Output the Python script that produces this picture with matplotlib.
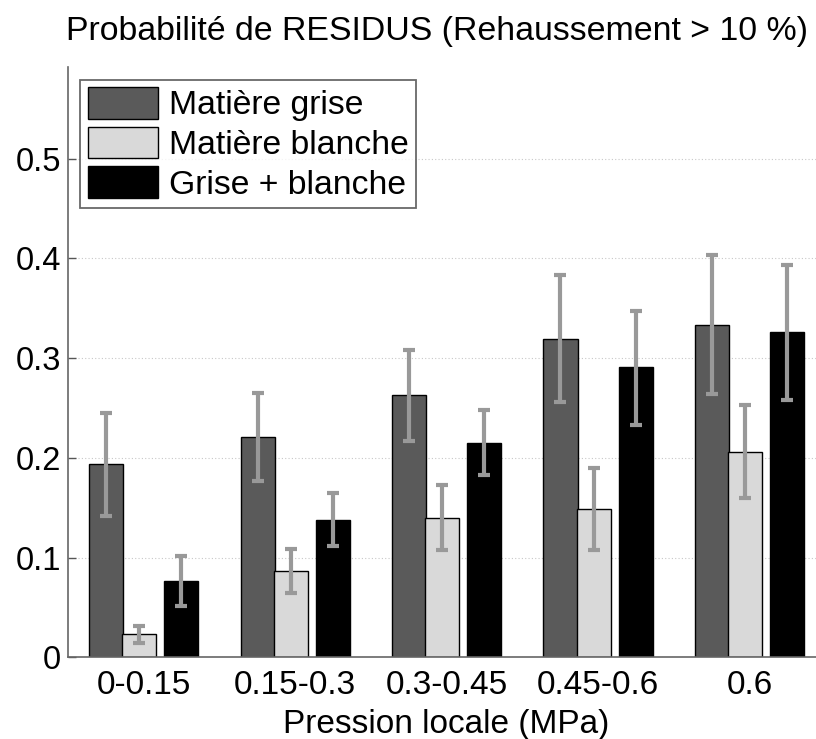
import matplotlib.pyplot as plt
import numpy as np

plt.rcParams['font.family'] = ['Liberation Sans', 'DejaVu Sans']

# Data
groupes = ['0-0.15', '0.15-0.3', '0.3-0.45', '0.45-0.6', '0.6']
series = ['Matière grise', 'Matière blanche', 'Grise + blanche']

grise = [0.194, 0.221, 0.263, 0.319, 0.333]
grise_bas = [0.142, 0.177, 0.217, 0.256, 0.264]
grise_haut = [0.245, 0.265, 0.308, 0.383, 0.403]

blanche = [0.023, 0.086, 0.140, 0.149, 0.206]
blanche_bas = [0.014, 0.064, 0.108, 0.108, 0.160]
blanche_haut = [0.031, 0.109, 0.173, 0.190, 0.253]

mixte = [0.076, 0.138, 0.215, 0.291, 0.326]
mixte_bas = [0.051, 0.112, 0.183, 0.233, 0.258]
mixte_haut = [0.102, 0.165, 0.248, 0.347, 0.393]

couleurs = ['#5a5a5a', '#d9d9d9', '#000000']
decalages = [-0.248, -0.028, 0.248]
largeur = 0.225

fig = plt.figure(figsize=(8.16, 7.39), dpi=100)
ax = fig.add_axes([0.0833, 0.1106, 0.928, 0.799])

x = np.arange(1, len(groupes) + 1)
valeurs = [grise, blanche, mixte]
bas = [grise_bas, blanche_bas, mixte_bas]
haut = [grise_haut, blanche_haut, mixte_haut]

for v, b, h, c, d, nom in zip(valeurs, bas, haut, couleurs, decalages, series):
    v = np.array(v)
    ax.bar(x + d, v, largeur, color=c, edgecolor='black', linewidth=1.0,
           label=nom, zorder=2)
    err = [v - np.array(b), np.array(h) - v]
    ax.errorbar(x + d, v, yerr=err, fmt='none', ecolor='#999999',
                elinewidth=3.0, capsize=4.5, capthick=3.0, zorder=3)

ax.set_xlim(0.5, 5.5)
ax.set_ylim(0, 0.592)
ax.set_yticks([0, 0.1, 0.2, 0.3, 0.4, 0.5])
ax.set_yticklabels(['0', '0.1', '0.2', '0.3', '0.4', '0.5'])
ax.set_xticks(x)
ax.set_xticklabels(groupes)

ax.tick_params(axis='y', direction='in', length=6, width=1, color='#555555',
               labelsize=23.5, pad=5)
ax.tick_params(axis='x', length=0, labelsize=24, pad=9)

for s in ['top', 'right']:
    ax.spines[s].set_visible(False)
for s in ['left', 'bottom']:
    ax.spines[s].set_color('#666666')
    ax.spines[s].set_linewidth(1.2)

ax.yaxis.grid(True, linestyle=(0, (1, 2)), color='#c8c8c8', linewidth=0.8, zorder=0)
ax.set_axisbelow(True)

# title placed by hand so that it stays inside the figure
fig.text(66 / 816, 1 - 40 / 739, 'Probabilité de RESIDUS (Rehaussement > 10 %)',
         fontsize=24.4, ha='left', va='baseline')
ax.set_xlabel('Pression locale (MPa)', fontsize=24, labelpad=6)

leg = ax.legend(loc='upper left', bbox_to_anchor=(0.016, 0.978), fontsize=24.3,
                frameon=True, fancybox=False, handlelength=2.1, handleheight=1.05,
                handletextpad=0.3, labelspacing=0.16, borderpad=0.22,
                borderaxespad=0.0)
leg.get_frame().set_edgecolor('#444444')
leg.get_frame().set_linewidth(1.3)
leg.set_zorder(5)

plt.savefig('out.png', dpi=100)
